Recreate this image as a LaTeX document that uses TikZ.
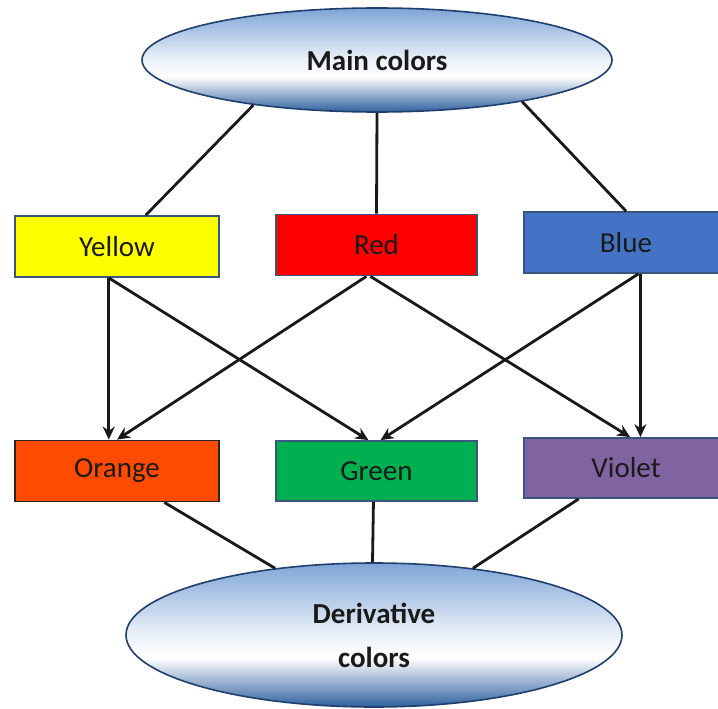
\documentclass[tikz,border=0pt]{standalone}
\usepackage{fontspec}
\setmainfont{Carlito}
\usetikzlibrary{shapes.geometric,arrows.meta,calc}
\definecolor{ellTop}{HTML}{7FA5D6}
\definecolor{ellBot}{HTML}{2F609E}
\definecolor{ellLine}{HTML}{1F3F6E}
\definecolor{boxLine}{HTML}{3A557E}
\definecolor{cYellow}{HTML}{FFFF00}
\definecolor{cRed}{HTML}{FF0000}
\definecolor{cBlue}{HTML}{4472C4}
\definecolor{cOrange}{HTML}{FF4B00}
\definecolor{cGreen}{HTML}{00B050}
\definecolor{cViolet}{HTML}{8064A2}
\definecolor{txt}{HTML}{1A1A1A}
\pgfdeclareverticalshading{ellshade}{100bp}{color(0bp)=(ellBot); color(25bp)=(ellBot); color(42bp)=(white); color(50bp)=(white!85!ellTop); color(75bp)=(ellTop); color(100bp)=(ellTop)}
\begin{document}
\begin{tikzpicture}[x=1pt,y=-1pt,
  ell/.style={ellipse, draw=ellLine, line width=1.6pt, shading=ellshade, inner sep=0pt, text=txt, font=\fontsize{29}{44}\selectfont\bfseries, align=center},
  colbox/.style={rectangle, draw=boxLine, line width=1.8pt, minimum width=204pt, minimum height=61pt, inner sep=0pt, text=txt, font=\fontsize{29}{34}\selectfont},
  link/.style={line width=2.8pt, black!90},
  arr/.style={link, -{Stealth[length=13pt,width=12pt]}}]
\clip (0,0) rectangle (718,709);
\fill[white] (0,0) rectangle (718,709);

\node[ell, minimum width=470pt, minimum height=104pt] (main) at (377,60) {Main colors};
\node[ell, minimum width=496pt, minimum height=144pt] (deriv) at (374,635) {Derivative\\colors};

\node[colbox, fill=cYellow] (yellow) at (117,246.5) {Yellow};
\node[colbox, fill=cRed, minimum width=201pt] (red) at (376.5,245) {Red};
\node[colbox, fill=cBlue] (blue) at (626,242.5) {Blue};
\node[colbox, fill=cOrange, draw=black!85] (orange) at (117,471) {Orange};
\node[colbox, fill=cGreen, minimum width=201pt, minimum height=60pt] (green) at (376.5,471) {Green};
\node[colbox, fill=cViolet, minimum height=60pt] (violet) at (626,468) {Violet};

% top connectors
\draw[link] (main.200) -- ($(yellow.north west)!0.64!(yellow.north east)$);
\draw[link] (main.south) -- (red.north);
\draw[link] (main.344) -- (blue.north);

% arrows
\draw[arr] ($(yellow.south west)!0.46!(yellow.south east)$) -- ($(orange.north west)!0.46!(orange.north east)$);
\draw[arr] ($(yellow.south west)!0.46!(yellow.south east)$) -- ($(green.north west)!0.46!(green.north east)$);
\draw[arr] ($(red.south west)!0.45!(red.south east)$) -- ($(orange.north west)!0.50!(orange.north east)$);
\draw[arr] ($(red.south west)!0.47!(red.south east)$) -- ($(violet.north west)!0.52!(violet.north east)$);
\draw[arr] ($(blue.south west)!0.56!(blue.south east)$) -- ($(green.north west)!0.52!(green.north east)$);
\draw[arr] ($(blue.south west)!0.57!(blue.south east)$) -- ($(violet.north west)!0.57!(violet.north east)$);

% bottom connectors
\coordinate (dtop) at ($(deriv.north)+(-1.5,0)$);
\draw[link] ($(orange.south west)!0.73!(orange.south east)$) -- (deriv.146);
\draw[link] ($(green.south west)!0.485!(green.south east)$) -- (dtop);
\draw[link] ($(violet.south west)!0.27!(violet.south east)$) -- (deriv.34);
\end{tikzpicture}
\end{document}
